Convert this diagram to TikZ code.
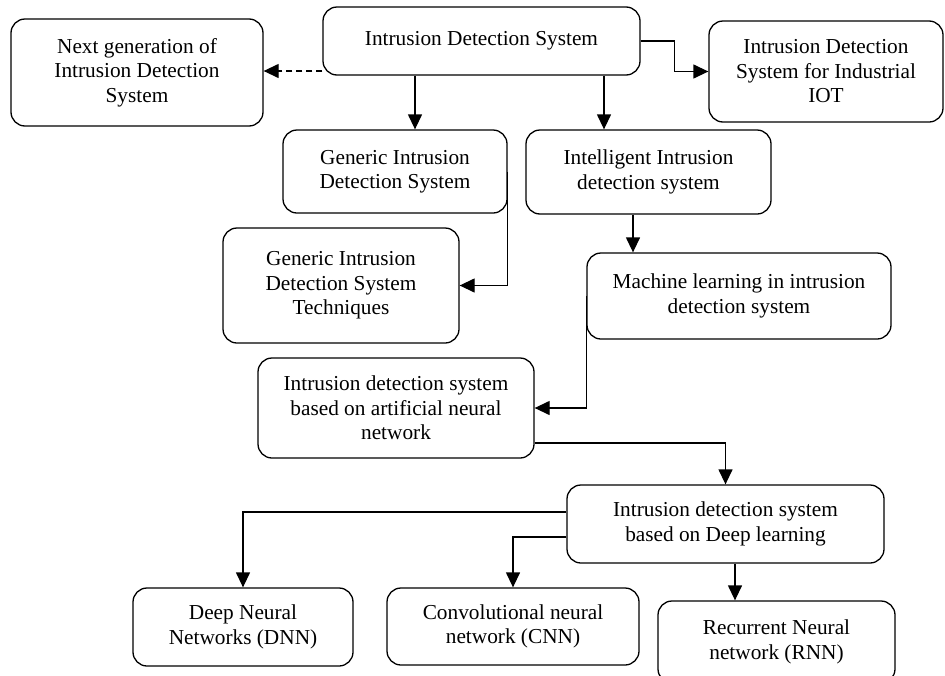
\documentclass[tikz,border=0pt]{standalone}
\usepackage{fontspec}
\setmainfont{Liberation Serif}
\usetikzlibrary{arrows.meta}
\begin{document}
\begin{tikzpicture}[x=1pt,y=-1pt,
  box/.style={draw,line width=1.3pt,rounded corners=14pt,align=center,inner sep=0pt,
    font=\fontsize{21.3}{24.5}\selectfont},
  arr/.style={line width=1.3pt,-{Triangle[length=15pt,width=14pt]}},
  dsh/.style={dash pattern=on 6pt off 4pt}]
\clip (0,0) rectangle (945,675);
\fill[white] (0,0) rectangle (945,675);
\node[box,minimum width=317pt,minimum height=68pt] (ids) at (481.5,41) {Intrusion Detection System};
\node[box,minimum width=252pt,minimum height=107pt] (ng) at (137,72.5) {Next generation of\\Intrusion Detection\\System};
\node[box,minimum width=234pt,minimum height=101pt] (iiot) at (826,71.5) {Intrusion Detection\\System for Industrial\\IOT};
\node[box,minimum width=224pt,minimum height=83pt] (gen) at (395,171.5) {Generic Intrusion\\Detection System};
\node[box,minimum width=245pt,minimum height=84pt] (int) at (648.5,172) {Intelligent Intrusion\\detection system};
\node[box,minimum width=236pt,minimum height=115pt] (gt) at (341,285.5) {Generic Intrusion\\Detection System\\Techniques};
\node[box,minimum width=304pt,minimum height=86pt] (ml) at (739,296) {Machine learning in intrusion\\detection system};
\node[box,minimum width=276pt,minimum height=100pt] (ann) at (396,408) {Intrusion detection system\\based on artificial neural\\network};
\node[box,minimum width=317pt,minimum height=78pt] (dl) at (725.5,524) {Intrusion detection system\\based on Deep learning};
\node[box,minimum width=220pt,minimum height=78pt] (dnn) at (243,627) {Deep Neural\\Networks (DNN)};
\node[box,minimum width=252pt,minimum height=77pt] (cnn) at (513,626.5) {Convolutional neural\\network (CNN)};
\node[box,minimum width=237pt,minimum height=82pt] (rnn) at (776.5,642) {Recurrent Neural\\network (RNN)};
% connectors
\draw[arr,dsh] ([yshift=-30pt]ids.west) -- ([yshift=-30pt]ids.west -| ng.east);
\draw[arr] (ids.east) -- ++(34,0) |- (iiot.west);
\draw[arr] ([xshift=20pt]gen.north |- ids.south) -- ([xshift=20pt]gen.north);
\draw[arr] ([xshift=-44.5pt]int.north |- ids.south) -- ([xshift=-44.5pt]int.north);
\draw[arr] (gen.east) |- (gt.east);
\draw[arr] ([xshift=-15.5pt]int.south) -- ([xshift=-15.5pt]int.south |- ml.north);
\draw[arr] (ml.west) |- (ann.east);
\draw[arr] ([yshift=-35pt]ann.east) -| (dl.north);
\draw[arr] ([yshift=12pt]dl.west) -| (dnn.north);
\draw[arr] ([yshift=-13pt]dl.west) -| (cnn.north);
\draw[arr] ([xshift=9.5pt]dl.south) -- ([xshift=9.5pt]dl.south |- rnn.north);
\end{tikzpicture}
\end{document}
